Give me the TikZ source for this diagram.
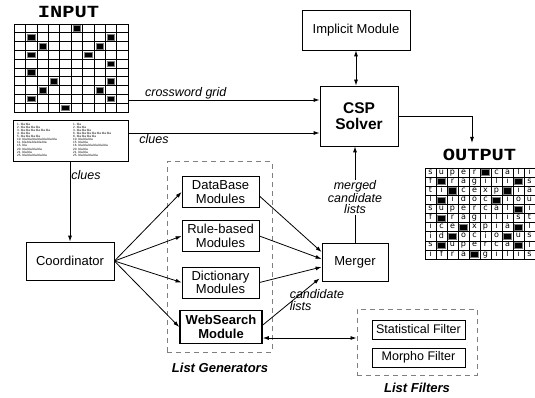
\documentclass[tikz,border=0pt]{standalone}
\usepackage{graphicx}
\usepackage{fontspec}
\setmainfont{Liberation Sans}
\newfontfamily\titlefont{Liberation Mono}
\newfontfamily\cellfont{DejaVu Sans}
\usetikzlibrary{arrows.meta}
\newcommand{\blackcells}{6/1,2/2,9/2,3/3,8/3,2/4,7/4,9/5,2/6,4/7,9/7,3/8,8/8,2/9,9/9,5/10}
\tikzset{
  box/.style={draw, line width=0.8pt, align=center, inner sep=0pt,
    font=\fontsize{13}{13.5}\selectfont},
  arr/.style={-{Latex[length=6pt,width=4pt]}, line width=0.8pt},
  dbl/.style={{Latex[length=6pt,width=4pt]}-{Latex[length=6pt,width=4pt]}, line width=0.8pt},
  lbl/.style={font=\itshape\fontsize{12.5}{11.5}\selectfont, align=center, inner sep=1pt},
  grp/.style={draw=gray, dash pattern=on 5pt off 4pt, line width=1pt, inner sep=0pt},
  grptitle/.style={font=\bfseries\itshape\fontsize{13}{13}\selectfont},
  gridtitle/.style={font=\titlefont\bfseries\fontsize{17}{17}\selectfont, inner sep=0pt},
  blk/.style={fill=black, draw=gray, line width=0.5pt},
  cluetxt/.style={font=\fontsize{3.1}{3}\selectfont, align=left, inner sep=0pt},
  cell/.style={font=\cellfont\fontsize{8}{8}\selectfont, inner sep=0pt}
}

\begin{document}
\begin{tikzpicture}[x=1pt,y=-1pt]
\useasboundingbox (0,0) rectangle (535,398);

% input side
\node[gridtitle] (intitle) at (68.5,12) {\scalebox{1.2}[1]{INPUT}};
\node[draw, line width=0.8pt, minimum width=114pt, minimum height=88pt, inner sep=0pt] (ingrid) at (71,68) {};
\foreach \i in {1,...,9} {
  \draw[line width=0.6pt] ({14+\i*11.4},24) -- ++(0,88);
  \draw[line width=0.6pt] (14,{24+\i*8.8}) -- ++(114,0);
}
\foreach \c/\r in \blackcells
  \filldraw[blk] ({14+(\c-1)*11.4+2},{24+(\r-1)*8.8+1.6}) rectangle ++(7.4,5.6);

\node[draw, line width=0.8pt, minimum width=115pt, minimum height=41pt, inner sep=0pt] (clues) at (70.5,140.5) {};
\node[cluetxt, anchor=north west] (cluesl) at (17,123) {1. bla bla\\2. bla bla bla bla\\3. bla bla bla bla bla bla\\4. bla bla\\[0.5pt]
  5. bla bla bla bla\\10. bla bla bla bla bla bla bla\\11. bla bla bla bla bla\\15. bla\\[0.5pt]
  20. bla bla bla bla\\21. bla bla\\25. bla bla bla bla bla};
\node[cluetxt, anchor=north west] (cluesr) at (73,123) {1. bla\\2. bla bla\\3. bla bla bla\\[0.5pt]
  6. bla bla bla bla bla bla bla\\8. bla bla bla bla\\10. bla bla bla\\15. bla bla\\16. bla bla bla bla bla bla\\[0.5pt]
  20. bla bla\\21. bla bla\\25. bla bla bla bla};

% solver and implicit module
\node[box, minimum width=108pt, minimum height=40pt] (implicit) at (356,30) {Implicit Module};
\node[box, minimum width=78pt, minimum height=60pt, font=\bfseries\fontsize{15.5}{16}\selectfont] (csp) at (359,116) {CSP\\Solver};

% coordinator and list generators
\node[box, minimum width=88pt, minimum height=38pt] (coord) at (70,261) {Coordinator};
\node[grp, minimum width=105pt, minimum height=190pt] (gens) at (219.5,257) {};
\node[grptitle] (genstitle) at (220,368) {List Generators};
\node[box, minimum width=77pt, minimum height=31pt] (db) at (220.5,192) {DataBase\\Modules};
\node[box, minimum width=77pt, minimum height=31pt] (rule) at (220.5,236) {Rule-based\\Modules};
\node[box, minimum width=77pt, minimum height=31pt] (dict) at (220.5,282.5) {Dictionary\\Modules};
\node[box, minimum width=82pt, minimum height=33pt, line width=1.6pt, font=\bfseries\fontsize{13}{13.5}\selectfont] (web) at (221,327) {WebSearch\\Module};
\node[box, minimum width=66pt, minimum height=38pt] (merger) at (355,262) {Merger};

% list filters
\node[grp, minimum width=120pt, minimum height=66pt] (filters) at (417,342) {};
\node[grptitle] (filtitle) at (417,388) {List Filters};
\node[box, minimum width=93pt, minimum height=19pt, font=\fontsize{12.5}{13}\selectfont] (stat) at (418.5,329.5) {Statistical Filter};
\node[box, minimum width=93pt, minimum height=19pt, font=\fontsize{12.5}{13}\selectfont] (morpho) at (418.5,357.5) {Morpho Filter};

% output side
\node[gridtitle] (outtitle) at (479.5,155) {\scalebox{1.2}[1]{OUTPUT}};
\node[draw, line width=0.8pt, minimum width=110pt, minimum height=91pt, inner sep=0pt] (outgrid) at (480,213.5) {};
\foreach \i in {1,...,9} {
  \draw[line width=0.6pt] ({425+\i*11},168) -- ++(0,91);
  \draw[line width=0.6pt] (425,{168+\i*9.1}) -- ++(110,0);
}
\foreach \c/\r in \blackcells
  \filldraw[blk] ({425+(\c-1)*11+1.5},{168+(\r-1)*9.1+1.5}) rectangle ++(8,6.1);
\foreach \r/\row in {1/{s,u,p,e,r,{},c,a,l,i}, 2/{f,{},r,a,g,i,l,i,{},s}, 3/{t,i,{},c,e,x,p,{},i,a},
    4/{l,{},i,d,o,c,{},i,o,u}, 5/{s,u,p,e,r,c,a,l,{},i}, 6/{f,{},r,a,g,i,l,i,s,t},
    7/{i,c,e,{},x,p,i,a,{},l}, 8/{i,d,{},o,c,i,o,{},u,s}, 9/{s,{},u,p,e,r,c,a,{},l},
    10/{i,f,r,a,{},g,i,l,i,s}}
  \foreach \l [count=\c] in \row
    \node[cell] at ({425+(\c-0.5)*11},{168+(\r-0.5)*9.1}) {\strut\l};

% connectors
\coordinate (gridrow) at (0,100);
\coordinate (cluerow) at (0,133);
\coordinate (outin) at (472,143);
\draw[arr] (ingrid.east |- gridrow) -- node[lbl, above, pos=0.3] {crossword grid} (csp.west |- gridrow);
\draw[arr] (clues.east |- cluerow) -- node[lbl, below right, pos=0.05] {clues} (csp.west |- cluerow);
\draw[arr] (clues.south -| coord.north) -- node[lbl, right, pos=0.17] {clues} (coord.north);
\draw[dbl] (implicit.south) -- (implicit.south |- csp.north);
\draw[arr] (csp.east) -| (outin);
\draw[arr] (merger.north) -- node[lbl, fill=white, pos=0.47] {merged\\candidate\\lists} (merger.north |- csp.south);
\foreach \m in {db,rule,dict,web}
  \draw[arr] (coord.east) -- (\m.west);
\draw[arr] ([yshift=-4pt]db.east) -- ([yshift=10pt]merger.west);
\draw[arr] (rule.east) -- ([yshift=3pt]merger.west);
\draw[arr] (dict.east) -- ([yshift=-5pt]merger.west);
\draw[arr] ([yshift=2pt]web.east) -- node[lbl, align=left, anchor=west, pos=0.45, yshift=4pt] {candidate\\lists} ([xshift=-2pt,yshift=3pt]merger.south west);
\draw[dbl] ([yshift=-11pt]web.east) -- ([yshift=-11pt]web.east -| filters.west);
\end{tikzpicture}
\end{document}
